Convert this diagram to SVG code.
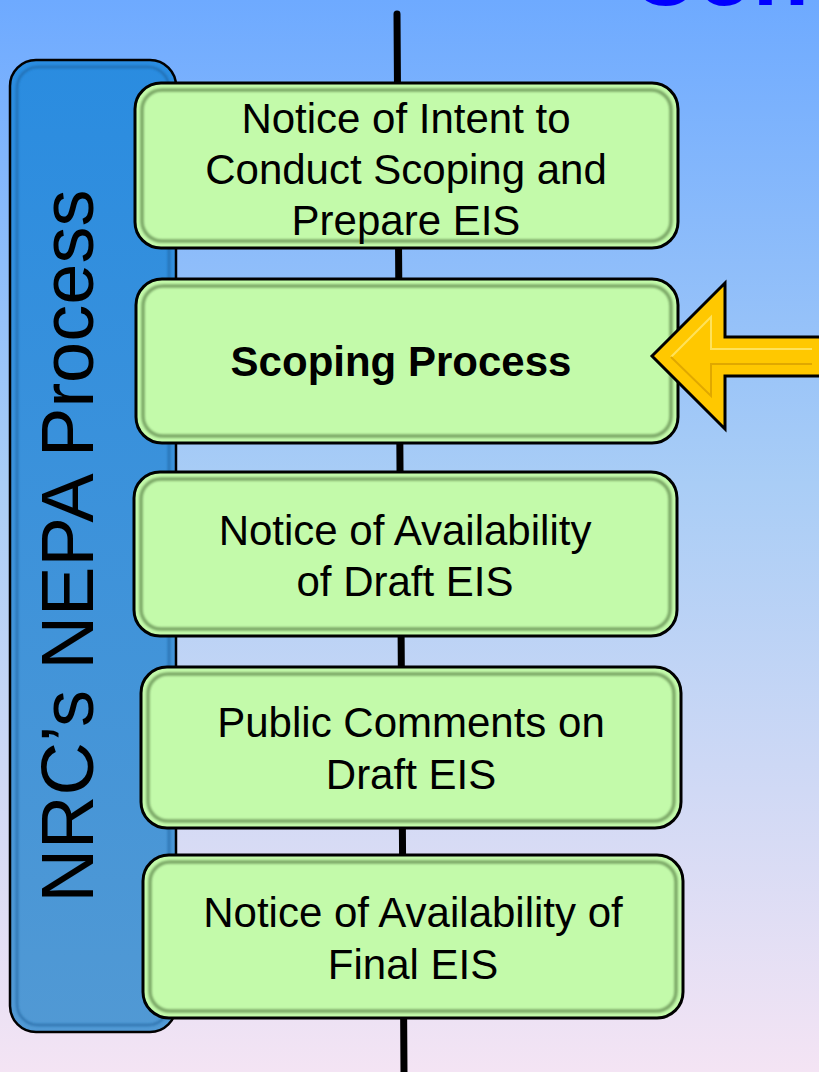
<svg xmlns="http://www.w3.org/2000/svg" width="819" height="1072" viewBox="0 0 819 1072">
<defs>
<linearGradient id="bg" x1="0" y1="0" x2="0" y2="1">
<stop offset="0" stop-color="#6eaaff"/>
<stop offset="0.45" stop-color="#a9cdf6"/>
<stop offset="1" stop-color="#f4e4f4"/>
</linearGradient>
<linearGradient id="panel" x1="0" y1="0" x2="0" y2="1">
<stop offset="0" stop-color="#2a8ce0"/>
<stop offset="1" stop-color="#5199d4"/>
</linearGradient>
<filter id="bevel" x="-5%" y="-5%" width="110%" height="110%">
<feGaussianBlur stdDeviation="1.2"/>
</filter>
<style>
.box{fill:#c3faaa;stroke:#000;stroke-width:3}
.bev{fill:none;stroke:#6f9a5c;stroke-width:3.5;opacity:0.85}
.t{font-family:"Liberation Sans",Arial,sans-serif;font-size:42px;fill:#000;text-anchor:middle}
.b{font-weight:bold}
</style>
</defs>
<rect x="0" y="0" width="819" height="1072" fill="url(#bg)"/>
<text x="630" y="5" font-family="Liberation Sans,Arial,sans-serif" font-weight="bold" font-size="92" fill="#0000ff">Con</text>
<g id="connectors">
<line x1="397" y1="14" x2="404" y2="1072" stroke="#000" stroke-width="7" stroke-linecap="round"/>
</g>
<g id="panel-nepa">
<rect x="10" y="60" width="166" height="972" rx="26" fill="url(#panel)" stroke="#000" stroke-width="2.5"/>
<rect x="17" y="67" width="152" height="958" rx="21" fill="none" stroke="#1d5f99" stroke-width="2.5" opacity="0.6" filter="url(#bevel)"/>
<text transform="translate(93,546) rotate(-90)" font-family="Liberation Sans,Arial,sans-serif" font-size="74" fill="#000" text-anchor="middle">NRC’s NEPA Process</text>
</g>
<g id="node1">
<rect class="box" x="135" y="83" width="543" height="165" rx="26"/>
<rect class="bev" x="142" y="90" width="529" height="151" rx="20" filter="url(#bevel)"/>
<text class="t" x="406" y="133">Notice of Intent to</text>
<text class="t" x="406" y="184">Conduct Scoping and</text>
<text class="t" x="406" y="235">Prepare EIS</text>
</g>
<g id="node2">
<rect class="box" x="136" y="279" width="542" height="164" rx="26"/>
<rect class="bev" x="143" y="286" width="528" height="150" rx="20" filter="url(#bevel)"/>
<text class="t b" x="401" y="376">Scoping Process</text>
</g>
<g id="node3">
<rect class="box" x="134" y="472" width="543" height="164" rx="26"/>
<rect class="bev" x="141" y="479" width="529" height="150" rx="20" filter="url(#bevel)"/>
<text class="t" x="405" y="545">Notice of Availability</text>
<text class="t" x="405" y="596">of Draft EIS</text>
</g>
<g id="node4">
<rect class="box" x="141" y="667" width="540" height="161" rx="26"/>
<rect class="bev" x="148" y="674" width="526" height="147" rx="20" filter="url(#bevel)"/>
<text class="t" x="411" y="737">Public Comments on</text>
<text class="t" x="411" y="789">Draft EIS</text>
</g>
<g id="node5">
<rect class="box" x="143" y="855" width="540" height="163" rx="26"/>
<rect class="bev" x="150" y="862" width="526" height="149" rx="20" filter="url(#bevel)"/>
<text class="t" x="413" y="927">Notice of Availability of</text>
<text class="t" x="413" y="979">Final EIS</text>
</g>
<g id="arrow">
<polygon points="652,356 725,283 725,337 830,337 830,376 725,376 725,429" fill="#ffc800" stroke="#000" stroke-width="3" stroke-linejoin="miter"/>
<polyline points="671,357 711,317 711,349 812,349" fill="none" stroke="#ffe25a" stroke-width="2"/>
<polyline points="671,357 711,396 711,364 812,364" fill="none" stroke="#e0a800" stroke-width="2"/>
</g>
</svg>
